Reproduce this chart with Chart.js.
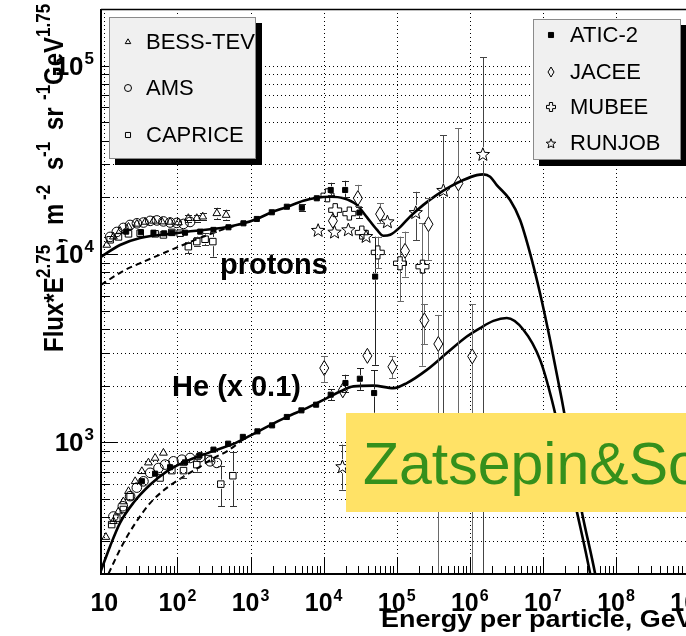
<!DOCTYPE html>
<html>
<head>
<meta charset="utf-8">
<script src="https://cdn.jsdelivr.net/npm/chart.js@4.4.1/dist/chart.umd.min.js"></script>
<style>
  html, body { margin: 0; padding: 0; background: #fff; overflow: hidden; width: 686px; height: 636px; }
  #wrap { position: absolute; left: 0; top: 0; width: 740px; height: 636px; }
</style>
</head>
<body>
<div id="wrap"><canvas id="c" width="740" height="636"></canvas></div>
<script>
// Energy per particle (GeV) vs Flux*E^2.75; rows are [E, F] or [E, F, F_low, F_high]

const bessProtons = [
  [10.8, 11170], [13.3, 12360], [16.4, 13250], [21.4, 13920], [27.9, 14450], [36.2, 14800],
  [47, 15000], [61.2, 14860], [79.4, 14800], [103, 14700], [141, 15490, 14800, 16200],
  [184, 15490, 14800, 16200], [222, 15780, 15100, 16500], [346, 16440, 15400, 17600], [464, 16100, 15100, 17200]
];
const bessHelium = [
  [10.5, 314], [13.3, 381], [15.6, 429], [18.2, 485], [21.4, 550], [26.4, 621],
  [32.6, 702], [40.1, 780], [49.5, 826], [64.3, 879]
];

const amsProtons = [
  [12, 12330], [14.8, 13100], [18.2, 13760], [22.5, 14270], [27.9, 14560], [34.3, 14700],
  [42.4, 15000], [52.3, 15080], [64.3, 14900], [79.4, 14700], [98, 14630], [121, 14450], [149, 14800]
];
const amsHelium = [
  [13.3, 404], [17.9, 458], [22.5, 518], [27.8, 575], [34.3, 621], [42.4, 689], [55, 731],
  [67.9, 762], [88.1, 793], [115, 809], [149, 826], [205, 835], [280, 793], [346, 778]
];

const capriceProtons = [
  [12, 11900], [15.6, 12330], [21.4, 12800], [30.9, 12900], [49.5, 12800], [64.3, 12630],
  [83.8, 13030], [109, 12900], [141, 10940, 10090, 11640], [184, 11640, 11000, 12360],
  [239, 11980, 11180, 12880], [305, 11640, 9680, 13150]
];
const capriceHelium = [
  [12.6, 366], [14.8, 396], [18.2, 440], [22.5, 515], [57.9, 647], [83.8, 708],
  [121, 708, 647, 762], [184, 762, 700, 820], [265, 820], [392, 600, 458, 747], [573, 665, 458, 885]
];

const atic2Protons = [
  [19.9, 13150], [31.6, 13060], [47, 12980], [65.8, 12880], [83.8, 12980], [127, 12980],
  [205, 13150], [311, 13430], [499, 13870], [800, 14560], [1220, 15350], [1955, 16660],
  [3140, 17830], [5040, 17620, 16900, 18400], [8070, 19770], [12500, 21880, 20600, 23900],
  [19700, 21880, 20100, 24500], [30900, 16600, 15500, 17800], [50700, 7590, 2580, 12360]
];
const atic2Helium = [
  [32.6, 622], [49.5, 682], [79.4, 738], [127, 783], [200, 850], [311, 915], [494, 984],
  [785, 1069], [1243, 1144], [1972, 1231], [3138, 1364], [4970, 1479], [7890, 1585],
  [12500, 1791, 1675, 1910], [19900, 2066, 1862, 2286], [31300, 2177, 1900, 2478], [49100, 1828, 1436, 2410]
];

const jaceeProtons = [
  [13400, 15000], [29400, 19800, 18000, 23300], [59300, 16300, 14600, 18600],
  [130000, 10400, 7590, 13150], [272000, 14400, 9300, 19800], [698000, 23700, 915, 46400],
  [239000, 4440, 3330, 5430], [371000, 3330, 100, 4750], [1080000, 2860, 100, 5430]
];
const jaceeHelium = [
  [10200, 2480, 2080, 2860], [18300, 1890], [39700, 2880], [87300, 2520, 2190, 2860]
];

const mubeeProtons = [
  [11300, 20500], [14400, 17100], [22500, 16400], [33300, 13000],
  [55100, 10200, 8400, 12360], [111000, 8930, 5600, 12360], [225000, 8570, 2550, 14600]
];

const runjobProtons = [
  [8410, 13430], [14100, 13150], [21800, 13530], [38100, 12470], [74600, 14920],
  [182000, 16700, 11860, 21400], [435000, 21900, 915, 42700], [1510000, 34000, 100, 111000]
];
const runjobHelium = [
  [18100, 747, 561, 973]
];

// model curves
const modelProtons = [
  [9, 9660], [16.4, 11170], [30.9, 12160], [100, 12940], [480, 13930], [800, 14550],
  [1220, 15350], [1950, 16670], [3140, 17780], [5300, 19190], [8070, 19910], [12270, 20140],
  [18660, 19770], [28440, 18240], [39000, 15700], [53500, 13460], [65800, 12500], [81300, 12650],
  [111400, 13900], [152400, 15810], [231700, 18240], [354000, 20610], [538000, 22800],
  [817000, 24720], [1247000, 26240], [1535000, 26490], [1897000, 25700], [2339000, 23230],
  [3556000, 19360], [4875000, 15170], [6683000, 10090], [9140000, 6194], [12530000, 3508],
  [18160000, 1683], [34040000, 430], [51760000, 201], [70800000, 100]
];
const modelProtonsLow = [
  [9, 6855], [18.1, 8130], [34, 9080], [70, 10250], [149, 11580], [280, 12760], [479, 13740], [800, 14550]
];
const modelHelium = [
  [8.77, 203], [12, 281], [16.4, 374], [25, 478], [42.6, 597], [71.6, 701], [120.8, 783],
  [204.6, 849], [346, 914], [583, 982], [989, 1086], [1671, 1208], [3141, 1365], [5888, 1521],
  [11070, 1718], [16830, 1862], [25590, 1982], [47970, 2000], [90160, 1941], [137400, 2065],
  [258200, 2427], [484200, 2979], [909900, 3648], [1384000, 4046], [2104000, 4416],
  [3206000, 4571], [5408000, 3963], [9162000, 2742], [13240000, 1683], [29110000, 430],
  [44260000, 201], [60300000, 100]
];
const modelHeliumLow = [
  [11.4, 201], [17.3, 281], [25, 359], [42.6, 477], [71.6, 573], [134.6, 674], [204.6, 743],
  [311, 826], [474, 896], [793, 1035]
];

const xLabelExponents = [1, 2, 3, 4, 5, 6, 7, 8, 9];
const yLabelExponents = [3, 4, 5];
const legendLeft = ['BESS-TEV', 'AMS', 'CAPRICE'];
const legendRight = ['ATIC-2', 'JACEE', 'MUBEE', 'RUNJOB'];

const X_MIN = 9, X_MAX = 3.2e9, Y_MIN = 200, Y_MAX = 2e5;
const FONT = '"Liberation Sans", Arial, Helvetica, sans-serif';

// ---- open marker outlines not built into Chart.js ----
const shapeSizes = {
  diamond: { w: 9, h: 15 }, cross: { w: 13, a: 4.4 }, star: { R: 7, r: 3 },
  diamondKey: { w: 6, h: 10 }, crossKey: { w: 9, a: 3.2 }, starKey: { R: 5, r: 2.2 }
};
function tracePath(ctx, kind, x, y, s) {
  ctx.beginPath();
  if (kind === 'diamond') {
    ctx.moveTo(x, y - s.h / 2); ctx.lineTo(x + s.w / 2, y); ctx.lineTo(x, y + s.h / 2); ctx.lineTo(x - s.w / 2, y);
  } else if (kind === 'cross') {
    const h = s.w / 2, a = s.a / 2;
    const pts = [[-a, -h], [a, -h], [a, -a], [h, -a], [h, a], [a, a], [a, h], [-a, h], [-a, a], [-h, a], [-h, -a], [-a, -a]];
    pts.forEach(([dx, dy], i) => i ? ctx.lineTo(x + dx, y + dy) : ctx.moveTo(x + dx, y + dy));
  } else if (kind === 'star') {
    for (let i = 0; i < 10; i++) {
      const ang = -Math.PI / 2 + i * Math.PI / 5, rad = i % 2 ? s.r : s.R;
      const px = x + rad * Math.cos(ang), py = y + 0.8 + rad * Math.sin(ang);
      if (i === 0) ctx.moveTo(px, py); else ctx.lineTo(px, py);
    }
  }
  ctx.closePath();
  ctx.stroke();
}

const toPts = rows => rows.map(r => ({ x: r[0], y: r[1] }));

function experiment(label, rows, style, radius, fill, bar) {
  return {
    label, rows, data: toPts(rows), showLine: false,
    pointStyle: style, pointRadius: radius, pointHoverRadius: radius,
    pointBorderColor: '#000', pointBackgroundColor: fill, pointBorderWidth: 1,
    barColor: bar, gap: radius
  };
}
function outlined(label, rows, shape, bar) {
  const s = shapeSizes[shape];
  return {
    label, rows, data: toPts(rows), showLine: false, pointRadius: 0, pointHoverRadius: 0,
    shape, barColor: bar, gap: shape === 'diamond' ? s.h / 2 : shape === 'cross' ? s.w / 2 : s.R
  };
}
function curve(rows, dashed) {
  return {
    data: toPts(rows), showLine: true, pointRadius: 0, borderColor: '#000',
    borderWidth: dashed ? 2 : 2.6, borderDash: dashed ? [6, 4] : [],
    cubicInterpolationMode: 'monotone', fill: false
  };
}

const datasets = [
  experiment('BESS-TEV', bessProtons.concat(bessHelium), 'triangle', 4.5, 'rgba(0,0,0,0)', '#222'),
  experiment('AMS', amsProtons.concat(amsHelium), 'circle', 4.8, 'rgba(0,0,0,0)', '#222'),
  experiment('CAPRICE', capriceProtons.concat(capriceHelium), 'rect', 4.6, 'rgba(0,0,0,0)', '#333'),
  experiment('ATIC-2', atic2Protons.concat(atic2Helium), 'rect', 3.6, '#000', '#222'),
  outlined('JACEE', jaceeProtons.concat(jaceeHelium), 'diamond', '#6a6a6a'),
  outlined('MUBEE', mubeeProtons, 'cross', '#6a6a6a'),
  outlined('RUNJOB', runjobProtons.concat(runjobHelium), 'star', '#444'),
  curve(modelProtons, false), curve(modelProtonsLow, true),
  curve(modelHelium, false), curve(modelHeliumLow, true)
];

// ---- helpers ----
function minorValues(lo, hi) {
  const out = [];
  for (let e = Math.floor(Math.log10(lo)); e <= Math.ceil(Math.log10(hi)); e++) {
    for (let m = 1; m <= 9; m++) {
      const v = m * Math.pow(10, e);
      if (v >= lo && v <= hi) out.push({ v, major: m === 1 });
    }
  }
  return out;
}
function powerLabel(ctx, exp, x, y, align, big, small, rise) {
  ctx.font = 'bold ' + big + 'px ' + FONT;
  const w1 = ctx.measureText('10').width;
  const sup = exp === 1 ? '' : String(exp);
  ctx.font = 'bold ' + small + 'px ' + FONT;
  const w2 = sup ? ctx.measureText(sup).width + 1 : 0;
  const left = align === 'center' ? x - (w1 + w2) / 2 : x - (w1 + w2);
  ctx.textAlign = 'left';
  ctx.font = 'bold ' + big + 'px ' + FONT;
  ctx.fillText('10', left, y);
  if (sup) {
    ctx.font = 'bold ' + small + 'px ' + FONT;
    ctx.fillText(sup, left + w1 + 1, y - rise);
  }
}

// dotted grid under the data
const gridPlugin = {
  id: 'gridPlugin',
  beforeDatasetsDraw(chart) {
    const { ctx, chartArea: a, scales: { x, y } } = chart;
    ctx.save();
    ctx.strokeStyle = '#000';
    ctx.lineWidth = 1;
    ctx.setLineDash([1, 3]);
    for (const t of minorValues(Y_MIN, Y_MAX)) {
      const py = Math.round(y.getPixelForValue(t.v)) + 0.5;
      if (py <= a.top + 1 || py >= a.bottom - 1) continue;
      ctx.beginPath(); ctx.moveTo(a.left, py); ctx.lineTo(a.right, py); ctx.stroke();
    }
    for (const t of minorValues(X_MIN, X_MAX)) {
      if (!t.major) continue;
      const px = Math.round(x.getPixelForValue(t.v)) + 0.5;
      ctx.beginPath(); ctx.moveTo(px, a.top); ctx.lineTo(px, a.bottom); ctx.stroke();
    }
    ctx.restore();
  }
};

// vertical error bars with caps, placed through the scales
const errorBarPlugin = {
  id: 'errorBarPlugin',
  afterDatasetsDraw(chart) {
    const { ctx, chartArea: a, scales: { x, y } } = chart;
    ctx.save();
    ctx.beginPath(); ctx.rect(a.left, a.top, a.right - a.left, a.bottom - a.top); ctx.clip();
    ctx.lineWidth = 1;
    chart.data.datasets.forEach(ds => {
      if (!ds.rows) return;
      ctx.strokeStyle = ds.barColor;
      ds.rows.forEach(r => {
        if (r.length < 4) return;
        const px = Math.round(x.getPixelForValue(r[0])) + 0.5;
        const py = y.getPixelForValue(r[1]);
        const pLo = y.getPixelForValue(r[2]), pHi = y.getPixelForValue(r[3]);
        ctx.beginPath();
        if (pHi < py - ds.gap) { ctx.moveTo(px, pHi); ctx.lineTo(px, py - ds.gap); }
        if (pLo > py + ds.gap) { ctx.moveTo(px, py + ds.gap); ctx.lineTo(px, pLo); }
        ctx.moveTo(px - 3.5, Math.round(pHi) + 0.5); ctx.lineTo(px + 3.5, Math.round(pHi) + 0.5);
        ctx.moveTo(px - 3.5, Math.round(pLo) + 0.5); ctx.lineTo(px + 3.5, Math.round(pLo) + 0.5);
        ctx.stroke();
      });
    });
    ctx.restore();
  }
};

// outline markers at the element positions the scatter controller computed
const shapePlugin = {
  id: 'shapePlugin',
  afterDatasetsDraw(chart) {
    const { ctx, chartArea: a } = chart;
    ctx.save();
    ctx.strokeStyle = '#000';
    ctx.lineWidth = 1;
    chart.data.datasets.forEach((ds, i) => {
      if (!ds.shape) return;
      chart.getDatasetMeta(i).data.forEach(pt => {
        if (pt.x < a.left || pt.x > a.right || pt.y < a.top || pt.y > a.bottom) return;
        tracePath(ctx, ds.shape, pt.x, pt.y, shapeSizes[ds.shape]);
      });
    });
    ctx.restore();
  }
};

// frame, ticks, labels, titles, legends and the model banner
const decorPlugin = {
  id: 'decorPlugin',
  afterDraw(chart) {
    const { ctx, chartArea: a, scales: { x, y } } = chart;
    ctx.save();
    ctx.strokeStyle = '#000';
    ctx.fillStyle = '#000';
    // frame
    ctx.lineWidth = 1.5;
    ctx.beginPath(); ctx.moveTo(a.left, a.top + 0.5); ctx.lineTo(a.right, a.top + 0.5); ctx.stroke();
    ctx.lineWidth = 2;
    ctx.beginPath(); ctx.moveTo(a.left, a.top); ctx.lineTo(a.left, a.bottom); ctx.lineTo(a.right, a.bottom); ctx.stroke();
    // ticks pointing inwards
    ctx.lineWidth = 1;
    for (const t of minorValues(X_MIN, X_MAX)) {
      const px = Math.round(x.getPixelForValue(t.v)) + 0.5;
      if (px <= a.left + 1) continue;
      ctx.beginPath(); ctx.moveTo(px, a.bottom); ctx.lineTo(px, a.bottom - (t.major ? 16 : 8)); ctx.stroke();
    }
    for (const t of minorValues(Y_MIN, Y_MAX)) {
      const py = Math.round(y.getPixelForValue(t.v)) + 0.5;
      if (py >= a.bottom - 1) continue;
      ctx.beginPath(); ctx.moveTo(a.left, py); ctx.lineTo(a.left + (t.major ? 17 : 9), py); ctx.stroke();
    }
    // tick labels
    ctx.textBaseline = 'alphabetic';
    xLabelExponents.forEach(e => {
      powerLabel(ctx, e, x.getPixelForValue(Math.pow(10, e)), 611, 'center', 25, 16, 10);
    });
    yLabelExponents.forEach(e => {
      powerLabel(ctx, e, 94, y.getPixelForValue(Math.pow(10, e)) + 9, 'right', 26, 17, 11);
    });
    // x title, wide bold lettering
    ctx.save();
    ctx.translate(381, 627);
    ctx.scale(1.17, 1);
    ctx.font = 'bold 23px ' + FONT;
    ctx.textAlign = 'left';
    ctx.fillText('Energy per particle, GeV', 0, 0);
    ctx.restore();
    // y title, rotated; each piece placed along the axis
    ctx.save();
    ctx.translate(63, 355);
    ctx.rotate(-Math.PI / 2);
    ctx.scale(1, 1.15);
    const parts = [['Flux*E', 3, 0], ['2.75', 77, 1], [',', 111, 0], ['m', 130, 0], ['-2', 155, 1],
                   ['s', 185, 0], ['-1', 198, 1], ['sr', 225, 0], ['-1', 255, 1], ['GeV', 270, 0], ['1.75', 318, 1]];
    parts.forEach(([s, at, sup]) => {
      ctx.font = sup ? 'bold 17px ' + FONT : 'bold 24px ' + FONT;
      ctx.fillText(s, at, sup ? -11.3 : 0);
    });
    ctx.restore();
    // series labels
    ctx.font = 'bold 29px ' + FONT;
    ctx.textAlign = 'left';
    ctx.fillText('protons', 220, 274);
    ctx.fillText('He (x 0.1)', 172, 396);
    // legends
    drawLegend(ctx, 109, 17, 147, 142, legendLeft, [
      { style: 'triangle', r: 3.2, fill: 'rgba(0,0,0,0)' },
      { style: 'circle', r: 3.5, fill: 'rgba(0,0,0,0)' },
      { style: 'rect', r: 3.6, fill: 'rgba(0,0,0,0)' }
    ], [42, 88, 135], 128, 146);
    drawLegend(ctx, 533, 19, 148, 141, legendRight, [
      { style: 'rect', r: 3.6, fill: '#000' },
      { shape: 'diamond', size: shapeSizes.diamondKey },
      { shape: 'cross', size: shapeSizes.crossKey },
      { shape: 'star', size: shapeSizes.starKey }
    ], [35, 72, 107, 143], 551, 570);
    // model banner
    ctx.fillStyle = '#FFE266';
    ctx.fillRect(346, 413, 400, 99);
    ctx.fillStyle = '#35901C';
    ctx.font = '59px ' + FONT;
    ctx.textAlign = 'left';
    ctx.fillText('Zatsepin&Sokolskaya', 363, 484);
    ctx.restore();
  }
};

function drawLegend(ctx, bx, by, bw, bh, labels, marks, rows, mx, tx) {
  ctx.save();
  ctx.fillStyle = '#000';
  ctx.fillRect(bx + 6, by + 6, bw, bh);
  ctx.fillStyle = '#F0F0F0';
  ctx.fillRect(bx, by, bw, bh);
  ctx.strokeStyle = '#8A8A8A';
  ctx.lineWidth = 1;
  ctx.strokeRect(bx + 0.5, by + 0.5, bw - 1, bh - 1);
  ctx.beginPath(); ctx.rect(bx, by, bw, bh); ctx.clip();
  labels.forEach((lab, i) => {
    const m = marks[i];
    ctx.strokeStyle = '#000';
    ctx.lineWidth = 1;
    if (m.shape) {
      tracePath(ctx, m.shape, mx, rows[i], m.size);
    } else {
      ctx.fillStyle = m.fill;
      Chart.helpers.drawPoint(ctx, { pointStyle: m.style, radius: m.r, borderWidth: 1, rotation: 0 }, mx, rows[i]);
    }
    ctx.fillStyle = '#000';
    ctx.font = '22px ' + FONT;
    ctx.textAlign = 'left';
    ctx.textBaseline = 'middle';
    ctx.fillText(lab, tx, rows[i] + 1);
  });
  ctx.restore();
}

new Chart(document.getElementById('c'), {
  type: 'scatter',
  data: { datasets },
  options: {
    responsive: false,
    animation: false,
    devicePixelRatio: 1,
    events: [],
    layout: { padding: { left: 101, top: 9, right: 14, bottom: 62 } },
    plugins: { legend: { display: false }, tooltip: { enabled: false } },
    scales: {
      x: { type: 'logarithmic', min: X_MIN, max: X_MAX, display: false },
      y: { type: 'logarithmic', min: Y_MIN, max: Y_MAX, display: false }
    }
  },
  plugins: [gridPlugin, errorBarPlugin, shapePlugin, decorPlugin]
});
</script>
</body>
</html>
